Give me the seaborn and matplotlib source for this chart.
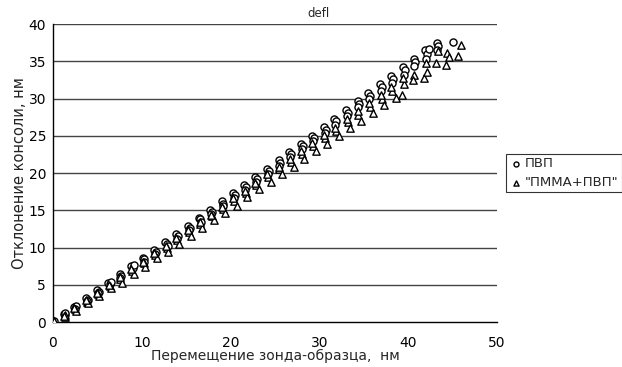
import pandas as pd
import seaborn as sns
import matplotlib.pyplot as plt

# ПВП (кружки)
pvp_x = [0.0, 0.1,
         1.2, 1.3, 1.4, 2.4, 2.6, 2.5, 3.7, 3.9, 3.8, 5.0, 5.2, 5.1,
         6.2, 6.4, 6.5, 7.5, 7.7, 7.6, 8.8, 9.0, 9.1, 10.1, 10.3, 10.2,
         11.4, 11.6, 11.5, 12.6, 12.8, 12.9, 13.9, 14.1, 14.0, 15.2, 15.4, 15.3,
         16.4, 16.6, 16.7, 17.7, 17.9, 17.8, 19.0, 19.2, 19.1, 20.3, 20.5, 20.4,
         21.5, 21.7, 21.6, 22.8, 23.0, 22.9, 24.1, 24.3, 24.2, 25.4, 25.6, 25.5,
         26.6, 26.8, 26.7, 27.9, 28.1, 28.0, 29.2, 29.4, 29.3, 30.5, 30.7, 30.6,
         31.7, 31.9, 31.8, 33.0, 33.2, 33.1, 34.3, 34.5, 34.4, 35.5, 35.7, 35.6,
         36.8, 37.0, 36.9, 38.1, 38.3, 38.2, 39.4, 39.6, 39.5, 40.6, 40.8, 40.7,
         41.9, 42.1, 42.3, 42.0, 43.2, 43.4, 43.3, 45.0]
pvp_y = [0.0, 0.2,
         1.1, 0.9, 1.2, 2.0, 2.2, 1.8, 3.2, 3.0, 2.8, 4.3, 4.0, 3.9,
         5.3, 5.1, 5.4, 6.4, 6.2, 5.9, 7.5, 7.3, 7.6, 8.6, 8.4, 8.1,
         9.7, 9.4, 9.1, 10.8, 10.5, 10.2, 11.8, 11.6, 11.2, 12.9, 12.6, 12.3,
         14.0, 13.8, 13.4, 15.1, 14.8, 14.5, 16.2, 15.9, 15.6, 17.3, 17.0, 16.6,
         18.4, 18.1, 17.7, 19.5, 19.2, 18.8, 20.6, 20.3, 19.9, 21.7, 21.4, 21.0,
         22.8, 22.5, 22.1, 23.9, 23.6, 23.2, 25.0, 24.7, 24.3, 26.2, 25.8, 25.4,
         27.3, 27.0, 26.5, 28.4, 28.1, 27.7, 29.6, 29.2, 28.8, 30.7, 30.4, 29.9,
         31.9, 31.5, 31.0, 33.0, 32.6, 32.1, 34.2, 33.8, 33.2, 35.3, 34.9, 34.3,
         36.5, 36.0, 36.7, 35.3, 37.4, 37.0, 36.5, 37.6]

# "ПММА+ПВП" (треугольники)
pmma_x = [0.0, 0.1,
          1.3, 1.4, 1.2, 2.5, 2.6, 2.4, 3.8, 3.9, 3.7, 5.1, 5.2, 5.0,
          6.4, 6.5, 6.3, 7.6, 7.8, 7.5, 8.9, 9.1, 8.8, 10.2, 10.4, 10.1,
          11.5, 11.7, 11.4, 12.8, 13.0, 12.7, 14.0, 14.2, 13.9, 15.3, 15.5, 15.2,
          16.6, 16.8, 16.5, 17.9, 18.1, 17.8, 19.1, 19.4, 19.0, 20.4, 20.7, 20.3,
          21.7, 21.9, 21.6, 22.9, 23.2, 22.8, 24.2, 24.5, 24.1, 25.5, 25.8, 25.4,
          26.8, 27.1, 26.7, 28.0, 28.3, 27.9, 29.3, 29.6, 29.2, 30.6, 30.9, 30.5,
          31.9, 32.2, 31.8, 33.2, 33.5, 33.1, 34.4, 34.7, 34.3, 35.7, 36.0, 35.6,
          37.0, 37.3, 36.9, 38.2, 38.6, 38.1, 39.5, 39.3, 39.4,
          40.7, 40.5, 41.8, 42.1, 43.1, 44.3, 42.0,
          43.4, 44.4, 44.6, 45.6, 45.9]
pmma_y = [0.0, 0.1,
          0.7, 0.9, 0.8, 1.7, 1.5, 1.9, 2.7, 2.5, 2.9, 3.7, 3.5, 3.9,
          4.8, 4.5, 5.0, 5.8, 5.3, 6.0, 6.9, 6.5, 7.1, 7.9, 7.4, 8.1,
          9.0, 8.6, 9.2, 10.0, 9.4, 10.2, 11.0, 10.5, 11.3, 12.1, 11.5, 12.3,
          13.1, 12.6, 13.4, 14.2, 13.7, 14.4, 15.2, 14.6, 15.5, 16.3, 15.6, 16.6,
          17.3, 16.8, 17.6, 18.4, 17.8, 18.7, 19.4, 18.8, 19.8, 20.5, 19.9, 20.8,
          21.5, 20.8, 21.9, 22.6, 21.9, 22.9, 23.6, 22.9, 24.0, 24.7, 23.9, 25.1,
          25.7, 25.0, 26.1, 26.8, 26.0, 27.2, 27.8, 27.0, 28.3, 28.9, 28.0, 29.4,
          29.9, 29.1, 30.5, 31.0, 30.1, 31.6, 32.0, 30.5, 32.7,
          33.1, 32.5, 32.7, 33.6, 34.7, 34.5, 34.8,
          36.4, 36.1, 35.6, 35.7, 37.2]

x_ticks = [0, 10, 20, 30, 40, 50]
y_ticks = [0, 5, 10, 15, 20, 25, 30, 35, 40]

df1 = pd.DataFrame({"x": pvp_x, "y": pvp_y})
df2 = pd.DataFrame({"x": pmma_x, "y": pmma_y})

sns.set_style("white")
plt.rcParams["font.family"] = ["DejaVu Sans"]

fig = plt.figure(figsize=(6.22, 3.67), dpi=100)
ax = fig.add_axes([0.0852, 0.1226, 0.7138, 0.812])

sns.scatterplot(data=df1, x="x", y="y", marker="o", s=26, color="white",
                edgecolor="black", linewidth=1.0, label="ПВП", ax=ax, zorder=3)
sns.scatterplot(data=df2, x="x", y="y", marker="^", s=28, color="white",
                edgecolor="black", linewidth=1.0, label='"ПММА+ПВП"', ax=ax, zorder=3)

ax.set_xlim(0, 50)
ax.set_ylim(0, 40)
ax.set_xticks(x_ticks)
ax.set_yticks(y_ticks)
for yv in y_ticks[1:]:
    ax.axhline(yv, color="#444444", lw=1, zorder=1)

for s in ["top", "right"]:
    ax.spines[s].set_visible(False)
for s in ["left", "bottom"]:
    ax.spines[s].set_color("black")
    ax.spines[s].set_linewidth(1)

ax.tick_params(axis="x", direction="in", length=4, width=0.8, labelsize=10, pad=10, colors="black")
ax.tick_params(axis="y", direction="out", length=4, width=0.8, labelsize=10, pad=1, colors="black")

ax.set_title("defl", fontsize=8.5, pad=5, x=0.597)
ax.set_xlabel("Перемещение зонда-образца,  нм", fontsize=10, labelpad=-1)
ax.set_ylabel("Отклонение консоли, нм", fontsize=10.5, labelpad=1, color="#222222")

leg = ax.legend(loc="center left", bbox_to_anchor=(1.02, 0.50), fontsize=9.5,
                frameon=True, fancybox=False, edgecolor="black", markerscale=0.7,
                handletextpad=0.2, borderpad=0.25, labelspacing=0.45, handlelength=1.0,
                borderaxespad=0)
leg.get_frame().set_linewidth(0.8)

fig.savefig("out.png", dpi=100)
